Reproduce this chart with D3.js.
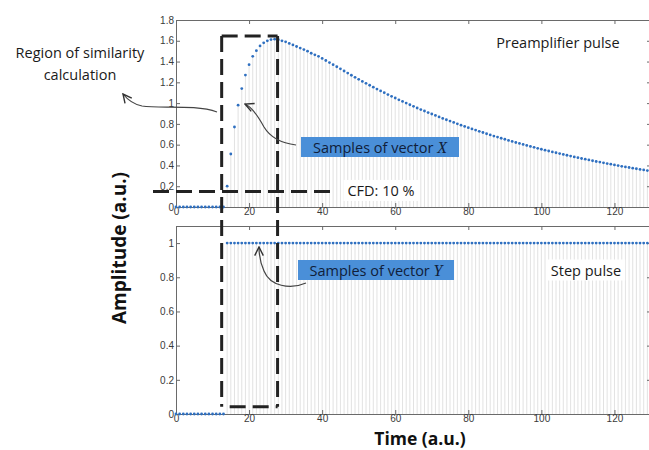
<!DOCTYPE html>
<html><head><meta charset="utf-8">
<script src="https://cdn.jsdelivr.net/npm/d3@7/dist/d3.min.js"></script>
<style>body{margin:0;background:#fff;} svg{display:block;}</style>
</head><body>
<script>
// ---- data ----
const pulseValues = [
 0,0,0,0,0,0,0,0,0,0,
 0,0,0,0,0.20,0.51,0.77,0.98,1.14,1.27,
 1.37,1.45,1.505,1.55,1.58,1.60,1.612,1.615,1.61,1.60,
 1.59,1.575,1.56,1.545,1.53,1.515,1.50,1.48,1.465,1.45,
 1.43,1.41,1.39,1.37,1.35,1.33,1.309,1.289,1.268,1.248,
 1.229,1.209,1.190,1.172,1.153,1.135,1.117,1.100,1.082,1.065,
 1.049,1.032,1.016,1.000,0.984,0.969,0.953,0.938,0.924,0.909,
 0.895,0.881,0.867,0.853,0.840,0.827,0.814,0.801,0.788,0.776,
 0.764,0.752,0.740,0.728,0.717,0.705,0.694,0.683,0.673,0.662,
 0.652,0.641,0.631,0.621,0.612,0.602,0.593,0.583,0.574,0.565,
 0.556,0.547,0.539,0.530,0.522,0.514,0.506,0.498,0.490,0.482,
 0.475,0.467,0.460,0.453,0.445,0.438,0.432,0.425,0.418,0.412,
 0.405,0.399,0.392,0.386,0.380,0.374,0.368,0.362,0.357,0.351,
 0.346
];
const stepValues = [
 0,0,0,0,0,0,0,0,0,0,
 0,0,0,0,1,1,1,1,1,1,
 1,1,1,1,1,1,1,1,1,1,
 1,1,1,1,1,1,1,1,1,1,
 1,1,1,1,1,1,1,1,1,1,
 1,1,1,1,1,1,1,1,1,1,
 1,1,1,1,1,1,1,1,1,1,
 1,1,1,1,1,1,1,1,1,1,
 1,1,1,1,1,1,1,1,1,1,
 1,1,1,1,1,1,1,1,1,1,
 1,1,1,1,1,1,1,1,1,1,
 1,1,1,1,1,1,1,1,1,1,
 1,1,1,1,1,1,1,1,1,1,
 1
];
const xTicks = [0,20,40,60,80,100,120];
const yTicksTop = [0,0.2,0.4,0.6,0.8,1,1.2,1.4,1.6,1.8];
const yTicksBottom = [0,0.2,0.4,0.6,0.8,1];
const xDomain = [0,130];
const yDomainTop = [0,1.8];
const yDomainBottom = [0,1.1];
const cfdLevel = 0.15;
const regionX = [12.5, 27.8];
const regionTopValue = 1.645;
const regionBottomValue = 0.043;
const titleTop = "Preamplifier pulse";
const titleBottom = "Step pulse";

// ---- layout ----
const W = 649, H = 450;
const svg = d3.select("body").append("svg").attr("width", W).attr("height", H);
const x = d3.scaleLinear().domain(xDomain).range([176, 651]);
const yT = d3.scaleLinear().domain(yDomainTop).range([207, 20]);
const yB = d3.scaleLinear().domain(yDomainBottom).range([414, 226]);

const stemColor = "#dadada", dotColor = "#2e6fc0", axisColor = "#6a6a6a";
const fmt = d3.format("~g");

function panel(y, values) {
  const g = svg.append("g");
  g.append("g").selectAll("line").data(values.map((v,i)=>[i,v]).filter(d=>d[1]>0))
    .join("line")
    .attr("x1", d=>x(d[0])).attr("x2", d=>x(d[0]))
    .attr("y1", y(0)).attr("y2", d=>y(d[1]))
    .attr("stroke", stemColor).attr("stroke-width", 0.8);
  return g;
}
function axes(y, yTicks) {
  const g = svg.append("g").attr("class","ax");
  const y0 = y.range()[0], y1 = y.range()[1];
  g.append("g").attr("transform",`translate(0,${y0})`)
    .call(d3.axisBottom(x).tickValues(xTicks).tickSize(-4).tickSizeOuter(0).tickPadding(1).tickFormat(fmt));
  g.append("g").attr("transform",`translate(0,${y1})`)
    .call(d3.axisTop(x).tickValues(xTicks).tickSize(-4).tickSizeOuter(0).tickFormat(""));
  g.append("g").attr("transform",`translate(${x.range()[0]},0)`)
    .call(d3.axisLeft(y).tickValues(yTicks).tickSize(-4).tickSizeOuter(0).tickPadding(2).tickFormat(fmt));
  g.append("g").attr("transform",`translate(${x.range()[1]},0)`)
    .call(d3.axisRight(y).tickValues(yTicks).tickSize(-4).tickSizeOuter(0).tickFormat(""));
  g.selectAll("path,line").attr("stroke", axisColor);
  g.selectAll("text").attr("fill","#3a3a3a").style("font-family","'Liberation Sans',Arial,sans-serif").style("font-size","10px");
  return g;
}
function dots(y, values) {
  svg.append("g").selectAll("circle").data(values.map((v,i)=>[i,v]))
    .join("circle").attr("cx", d=>x(d[0])).attr("cy", d=>y(d[1])).attr("r", 1.4)
    .attr("fill", dotColor);
}

const annFont = "'Open Sans','Noto Sans',sans-serif";
function whiteLabel(txt, cx, cy, size) {
  const t = svg.append("text").attr("x", cx).attr("y", cy).attr("text-anchor","middle")
    .attr("dominant-baseline","central").style("font-family", annFont).style("font-size", size+"px")
    .attr("fill","#1a1a1a").text(txt);
  const b = t.node().getBBox();
  svg.insert("rect", function(){return t.node();}).attr("x", b.x-4).attr("y", b.y-1).attr("width", b.width+8).attr("height", b.height+2).attr("fill","#fff");
  return t;
}

panel(yT, pulseValues);
panel(yB, stepValues);
axes(yT, yTicksTop);
axes(yB, yTicksBottom);
dots(yT, pulseValues);
dots(yB, stepValues);

whiteLabel(titleTop, 558, 42, 14.5);
whiteLabel(titleBottom, 586, 270, 14.5);
whiteLabel("CFD: 10 %", 381, yT(cfdLevel)-1, 14.5);

// dashed region
const dash = {stroke:"#222", "stroke-width":3, "stroke-dasharray":"16,7", fill:"none"};
function dline(x1,y1,x2,y2){ const l = svg.append("line").attr("x1",x1).attr("y1",y1).attr("x2",x2).attr("y2",y2); for (const k in dash) l.attr(k, dash[k]); return l; }
dline(x(regionX[0]), yT(regionTopValue), x(regionX[1]), yT(regionTopValue));
dline(x(regionX[0]), yT(regionTopValue), x(regionX[0]), yB(regionBottomValue));
dline(x(regionX[1]), yT(regionTopValue), x(regionX[1]), yB(regionBottomValue));
dline(x(regionX[0])+8, yB(regionBottomValue), x(regionX[1]), yB(regionBottomValue));
dline(153, yT(cfdLevel), 334, yT(cfdLevel));

// blue boxes
function blueBox(x0, y0, w, h, letter) {
  svg.append("rect").attr("x",x0).attr("y",y0).attr("width",w).attr("height",h).attr("fill","#4a8fd8");
  const t = svg.append("text").attr("x", x0 + w/2).attr("y", y0 + h/2).attr("text-anchor","middle")
    .attr("dominant-baseline","central").style("font-family", annFont).style("font-size","14.5px").attr("fill","#10203a");
  t.append("tspan").text("Samples of vector ");
  t.append("tspan").style("font-family","'Liberation Serif','DejaVu Serif',serif").style("font-style","italic").style("font-size","16px").text(letter);
}
blueBox(301, 137, 158, 20, "X");
blueBox(298, 260, 156, 20, "Y");

// arrows
const defs = svg.append("defs");
defs.append("marker").attr("id","ah").attr("viewBox","0 0 10 10").attr("refX",9).attr("refY",5)
  .attr("markerWidth",9).attr("markerHeight",9).attr("orient","auto")
  .append("path").attr("d","M1,1 L9,5 L1,9").attr("fill","none").attr("stroke","#333").attr("stroke-width",1.3);
function arrow(d){ svg.append("path").attr("d",d).attr("fill","none").attr("stroke","#444").attr("stroke-width",1.2).attr("marker-end","url(#ah)"); }
arrow("M217,112 C195,104 160,109 142,106 C132,104 127,99 123,94");
arrow("M296,145 C280,143 270,137 264,127 C258,116 252,107 245,104");
arrow("M306,283 C290,290 270,286 264,271 C260,262 259,254 259,247");

// region label
const rl = svg.append("text").attr("text-anchor","middle").style("font-family", annFont).style("font-size","14.5px").attr("fill","#1a1a1a");
rl.append("tspan").attr("x",80).attr("y",58).text("Region of similarity");
rl.append("tspan").attr("x",80).attr("y",80).text("calculation");

// axis titles
svg.append("text").attr("x", 420).attr("y", 444.5).attr("text-anchor","middle")
  .style("font-family", annFont).style("font-weight","bold").style("font-size","17.5px").attr("fill","#111").text("Time (a.u.)");
svg.append("text").attr("transform","translate(126,248) rotate(-90)").attr("text-anchor","middle")
  .style("font-family", annFont).style("font-weight","bold").style("font-size","19px").attr("fill","#111").text("Amplitude (a.u.)");
</script>
</body></html>
